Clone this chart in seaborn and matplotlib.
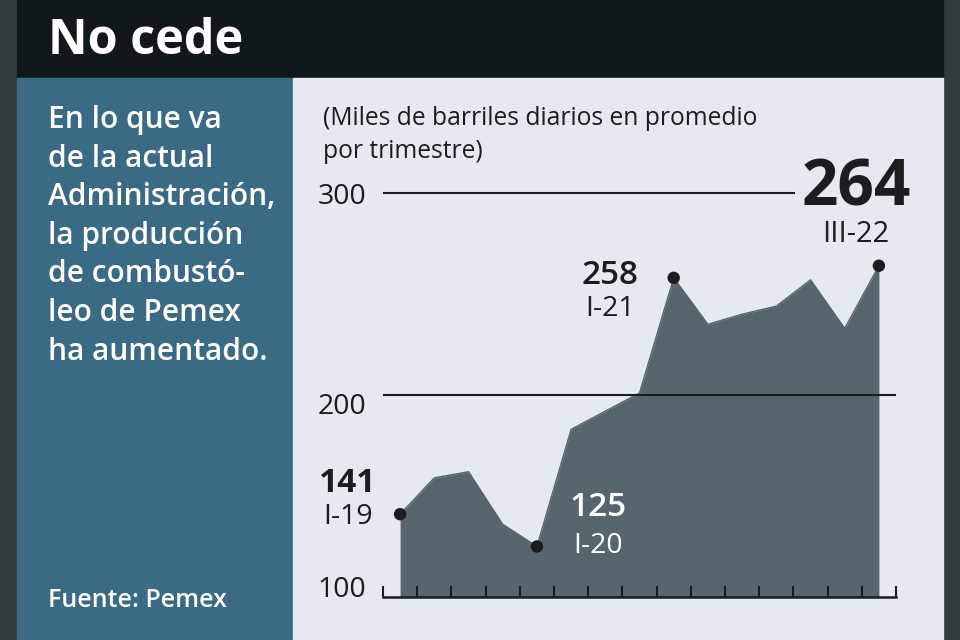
import numpy as np
import pandas as pd
import matplotlib
matplotlib.use("Agg")
import matplotlib.pyplot as plt
import seaborn as sns
from matplotlib.patches import Rectangle

# produccion de combustoleo de Pemex, miles de barriles diarios (promedio trimestral)
quarters = ["I-19", "II-19", "III-19", "IV-19",
            "I-20", "II-20", "III-20", "IV-20",
            "I-21", "II-21", "III-21", "IV-21",
            "I-22", "II-22", "III-22"]
production = [141, 159, 162, 136, 125, 183, 192, 201, 258, 235, 240, 244, 257, 233, 264]
gridlines = [200, 300]
ytick_labels = ["100", "200", "300"]

# trimestres destacados con punto y etiqueta
highlights = ["I-19", "I-20", "I-21", "III-22"]

title = "No cede"
intro = ["En lo que va", "de la actual", "Administración,", "la producción",
         "de combustó-", "leo de Pemex", "ha aumentado."]
units = ["(Miles de barriles diarios en promedio", "por trimestre)"]
source = "Fuente: Pemex"

df = pd.DataFrame({"quarter": quarters, "value": production})
df["idx"] = np.arange(len(df))

W, H = 960, 640
DARK = "#1b1d1f"
FILL = "#58656c"

sns.set_theme(style="white")
plt.rcParams["font.family"] = ["Open Sans", "DejaVu Sans"]

fig = plt.figure(figsize=(W / 100, H / 100), dpi=100)
fig.patch.set_facecolor("#343b3f")


def fx(px):
    return px / W


def fy(py):
    return 1 - py / H


def panel(x0, y0, x1, y1, color):
    fig.patches.append(Rectangle((fx(x0), fy(y1)), fx(x1 - x0), (y1 - y0) / H,
                                 transform=fig.transFigure, color=color, zorder=0))


panel(17, 0, 943, 78, "#10181c")
panel(17, 78, 293, 640, "#3a6a84")
panel(293, 78, 943, 640, "#e4eaf0")

# axes placed where the plot area sits in the picture
ax = fig.add_axes([fx(383), fy(597), fx(896 - 383), (597 - 193) / H])
ax.set_zorder(3)
ax.set_facecolor("none")
ax.set_axisbelow(False)
ax.set_xlim(-0.5, len(df) - 0.5)
ax.set_ylim(100, 300)

ax.fill_between(df["idx"], 100, df["value"], color=FILL, lw=0, zorder=0.5)
sns.lineplot(data=df, x="idx", y="value", ax=ax, color=FILL, lw=1, zorder=0.6)

# lineas de referencia
ax.hlines(gridlines[0], -0.5, len(df) - 0.5, color=DARK, lw=1.5, zorder=3)
ax.hlines(gridlines[1], -0.5, 11.55, color=DARK, lw=1.5, zorder=3, clip_on=False)

pts = df[df["quarter"].isin(highlights)]
sns.scatterplot(data=pts, x="idx", y="value", ax=ax, color=DARK, s=80,
                edgecolor="none", zorder=5, clip_on=False)

for s in ["top", "right", "left"]:
    ax.spines[s].set_visible(False)
ax.spines["bottom"].set_color(DARK)
ax.spines["bottom"].set_linewidth(1.8)
ax.spines["bottom"].set_zorder(4)
ax.set_xticks(np.arange(-0.5, len(df), 1))
ax.set_xticklabels([])
ax.set_yticks([])
ax.tick_params(axis="x", direction="in", length=8, width=1.5, color=DARK,
               bottom=True, zorder=4)
ax.set_xlabel("")
ax.set_ylabel("")

# etiquetas del eje y
for lab, py in zip(ytick_labels, [590, 407, 197]):
    fig.text(fx(366), fy(py), lab, ha="right", va="center", fontsize=20.5,
             color=DARK)

# anotaciones de puntos
ann = {
    "I-19": dict(x=348, vy=483, qy=517, vs=24, qs=20.5, vw="bold", c=DARK),
    "I-20": dict(x=598, vy=508, qy=546, vs=24, qs=20.5, vw="semibold", c="white"),
    "I-21": dict(x=610, vy=275, qy=309, vs=24, qs=20.5, vw="semibold", c=DARK),
    "III-22": dict(x=856, vy=189, qy=235, vs=46, qs=21, vw="bold", c=DARK),
}
for q, a in ann.items():
    v = df.loc[df["quarter"] == q, "value"].iloc[0]
    fig.text(fx(a["x"]), fy(a["vy"]), str(v), ha="center", va="center",
             fontsize=a["vs"], fontweight=a["vw"], color=a["c"])
    fig.text(fx(a["x"]), fy(a["qy"]), q, ha="center", va="center",
             fontsize=a["qs"], color=a["c"])

# textos
fig.text(fx(48), fy(42), title, ha="left", va="center", fontsize=35,
         fontweight="bold", color="white")
for i, line in enumerate(intro):
    fig.text(fx(48), fy(128 + i * 38.6), line, ha="left", va="baseline",
             fontsize=21.5, fontweight="semibold", color="white")
for i, line in enumerate(units):
    fig.text(fx(323), fy(125 + i * 33), line, ha="left", va="baseline",
             fontsize=17.7, color=DARK)
fig.text(fx(48), fy(607), source, ha="left", va="baseline", fontsize=18,
         fontweight="semibold", color="white")

fig.savefig("out.png", dpi=100, facecolor=fig.get_facecolor())
